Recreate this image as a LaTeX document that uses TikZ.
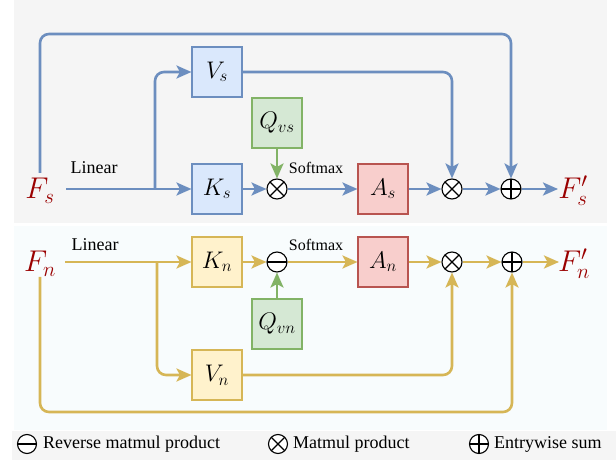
\RequirePackage{fix-cm}
\documentclass[tikz,border=0pt]{standalone}
\usepackage{fontspec}
\setmainfont{Liberation Serif}
\usetikzlibrary{arrows.meta,calc}
\definecolor{bline}{HTML}{6C8EBF}
\definecolor{bfill}{HTML}{DAE8FC}
\definecolor{yline}{HTML}{D6B656}
\definecolor{yfill}{HTML}{FFF2CC}
\definecolor{gline}{HTML}{82B366}
\definecolor{gfill}{HTML}{D5E8D4}
\definecolor{rline}{HTML}{B85450}
\definecolor{rfill}{HTML}{F8CECC}
\definecolor{fred}{HTML}{9A0000}
\definecolor{panelgray}{HTML}{F5F5F5}
\definecolor{panellight}{HTML}{F8FCFD}
\begin{document}
\begin{tikzpicture}[x=1pt,y=-1pt,
  box/.style={draw, minimum width=50pt, minimum height=50pt, inner sep=0pt, line width=1.1pt, font=\fontsize{24}{26}\selectfont},
  bbox/.style={box, draw=bline, fill=bfill},
  ybox/.style={box, draw=yline, fill=yfill},
  gbox/.style={box, draw=gline, fill=gfill},
  rbox/.style={box, draw=rline, fill=rfill},
  op/.style={circle, draw=black, fill=white, minimum size=20pt, inner sep=0pt, line width=1.1pt},
  optimes/.style={op, path picture={\draw[black,line width=1.1pt] (path picture bounding box.north west) -- (path picture bounding box.south east) (path picture bounding box.north east) -- (path picture bounding box.south west);}},
  opplus/.style={op, path picture={\draw[black,line width=1.1pt] (path picture bounding box.north) -- (path picture bounding box.south) (path picture bounding box.east) -- (path picture bounding box.west);}},
  opminus/.style={op, path picture={\draw[black,line width=1.1pt] (path picture bounding box.east) -- (path picture bounding box.west);}},
  feat/.style={text=fred, font=\fontsize{30}{32}\selectfont, inner sep=0pt},
  lbl/.style={font=\fontsize{18}{20}\selectfont, inner sep=0pt},
  slbl/.style={font=\fontsize{16}{18}\selectfont, inner sep=0pt},
  conn/.style={line width=2.6pt, rounded corners=9pt, -{Stealth[length=15pt,width=13pt,inset=3.5pt]}},
  bconn/.style={conn, draw=bline},
  yconn/.style={conn, draw=yline},
  gconn/.style={conn, draw=gline}
]
\useasboundingbox (0,0) rectangle (616,462);
% panels
\fill[panelgray] (14,0) rectangle (607,223);
\fill[panellight] (14,226) rectangle (607,430);
\fill[panelgray] (12,431) rectangle (616,460);

% ---------- top (s) ----------
\node[feat] (Fs) at (40,191) {$F_s$};
\node[feat] (Fso) at (573,191) {$F_s'$};
\node[bbox] (Vs) at (217,72) {$V_s$};
\node[bbox] (Ks) at (217,189) {$K_s$};
\node[gbox] (Qs) at (277,123) {$Q_{vs}$};
\node[optimes] (m1) at (277,189) {};
\node[rbox] (As) at (383,189) {$A_s$};
\node[optimes] (m2) at (452,189) {};
\node[opplus] (p1) at (511,189) {};
\coordinate (fsout) at (66,189);
\coordinate (fsup) at (40,173);
\coordinate (fstop) at (40,34);
\coordinate (sbr) at (155,189);
\coordinate (fsin) at (558,189);

\draw[bconn] (fsout) -- (Ks.west);
\draw[bconn] (sbr) |- (Vs.west);
\draw[bconn] (fsup) -- (fstop) -| (p1.north);
\draw[bconn] (Vs.east) -| (m2.north);
\draw[gconn] (Qs.south) -- (m1.north);
\draw[bconn] (Ks.east) -- (m1.west);
\draw[bconn] (m1.east) -- (As.west);
\draw[bconn] (As.east) -- (m2.west);
\draw[bconn] (m2.east) -- (p1.west);
\draw[bconn] (p1.east) -- (fsin);
\node[lbl] (lin1) at (94,168) {Linear};
\node[slbl] (sm1) at (316,168) {Softmax};

% ---------- bottom (n) ----------
\node[feat] (Fn) at (40,264) {$F_n$};
\node[feat] (Fno) at (574,264) {$F_n'$};
\node[ybox] (Kn) at (217,262) {$K_n$};
\node[ybox] (Vn) at (217,375) {$V_n$};
\node[gbox] (Qn) at (277,324) {$Q_{vn}$};
\node[opminus] (m3) at (277,262) {};
\node[rbox] (An) at (383,262) {$A_n$};
\node[optimes] (m4) at (452,262) {};
\node[opplus] (p2) at (512,262) {};
\coordinate (fnout) at (65,262);
\coordinate (fndn) at (40,277);
\coordinate (fnbot) at (40,412);
\coordinate (nbr) at (157,262);
\coordinate (fnin) at (559,262);

\draw[yconn] (fnout) -- (Kn.west);
\draw[yconn] (nbr) |- (Vn.west);
\draw[yconn] (fndn) -- (fnbot) -| (p2.south);
\draw[yconn] (Vn.east) -| (m4.south);
\draw[gconn] (Qn.north) -- (m3.south);
\draw[yconn] (Kn.east) -- (m3.west);
\draw[yconn] (m3.east) -- (An.west);
\draw[yconn] (An.east) -- (m4.west);
\draw[yconn] (m4.east) -- (p2.west);
\draw[yconn] (p2.east) -- (fnin);
\node[lbl] (lin2) at (95,245) {Linear};
\node[slbl] (sm2) at (316,245) {Softmax};

% ---------- legend ----------
\node[opminus, minimum size=19pt] (l1) at (27,444) {};
\node[lbl, anchor=west] (t1) at (43,444) {Reverse matmul product};
\node[optimes, minimum size=19pt] (l2) at (278,444) {};
\node[lbl, anchor=west] (t2) at (293,444) {Matmul product};
\node[opplus, minimum size=19pt] (l3) at (479,444) {};
\node[lbl, anchor=west] (t3) at (494,444) {Entrywise sum};
\end{tikzpicture}
\end{document}
